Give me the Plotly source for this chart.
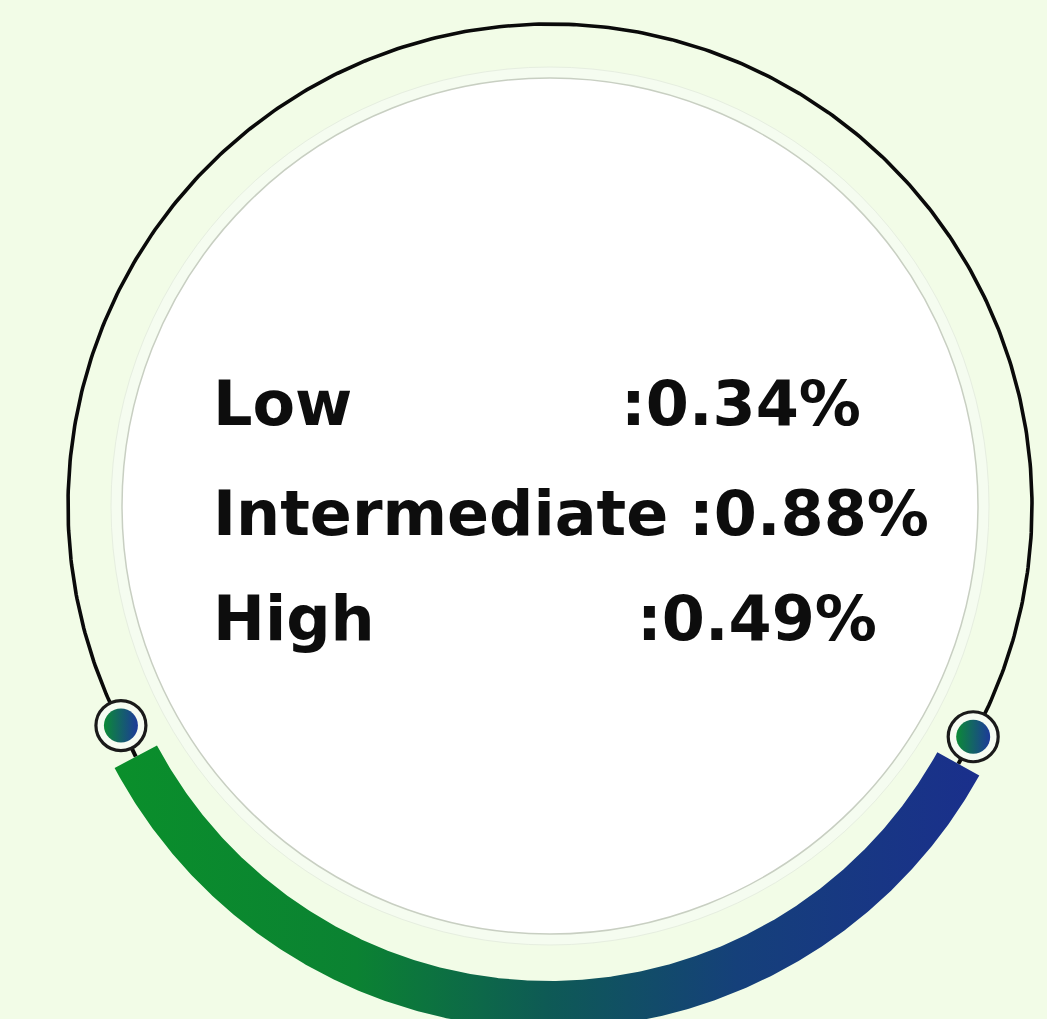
import numpy as np
import plotly.graph_objects as go

# ---- data ----
categories = ["Low", "Intermediate", "High"]
values = [0.34, 0.88, 0.49]

# ---- layout constants (pixel space) ----
W, H = 1047, 1019
BG = "#f2fce7"
CX, CY = 550, 506
R_WHITE = 428
R_HALO = 439
R_ARC = 482
ARC_T0, ARC_T1 = 152.9, 388.6          # degrees, y-down
BAND_CX, BAND_CY = 549, 537
BAND_RIN, BAND_ROUT = 444, 492
BAND_T0, BAND_T1 = 29.0, 152.0
LABEL_X = 211
ROW_Y = [403, 513, 618]
VALUE_X = [619, 687, 635]
FONT = "DejaVu Sans"
FSIZE = 62


def arc(cx, cy, r, t0, t1, n=400):
    t = np.radians(np.linspace(t0, t1, n))
    return cx + r * np.cos(t), cy + r * np.sin(t)


fig = go.Figure()

# black thin arc over the top
ax, ay = arc(CX, CY, R_ARC, ARC_T0, ARC_T1)
fig.add_trace(go.Scatter(x=ax, y=ay, mode="lines",
                         line=dict(color="#0a0a0a", width=3.6),
                         hoverinfo="skip"))

# marker positions on the black arc ends
mx = [ax[0], ax[-1]]
my = [ay[0], ay[-1]]

# band end mid points
bmid = (BAND_RIN + BAND_ROUT) / 2
e0x, e0y = arc(BAND_CX, BAND_CY, bmid, BAND_T1, BAND_T1, 1)
e1x, e1y = arc(BAND_CX, BAND_CY, bmid, BAND_T0, BAND_T0, 1)
for (px, py, qx, qy) in [(mx[0], my[0], e0x[0], e0y[0]), (mx[1], my[1], e1x[0], e1y[0])]:
    fig.add_trace(go.Scatter(x=[px, qx], y=[py, qy], mode="lines",
                             line=dict(color="#0a0a0a", width=4),
                             hoverinfo="skip"))

# gradient band at the bottom
ox, oy = arc(BAND_CX, BAND_CY, BAND_ROUT, BAND_T0, BAND_T1)
ix, iy = arc(BAND_CX, BAND_CY, BAND_RIN, BAND_T1, BAND_T0)
bx = np.concatenate([ox, ix, ox[:1]])
by = np.concatenate([oy, iy, oy[:1]])
fig.add_trace(go.Scatter(
    x=bx, y=by, mode="lines", fill="toself",
    line=dict(width=0),
    fillgradient=dict(type="horizontal",
                      colorscale=[[0, "#0a8f2b"], [0.28, "#0b8232"],
                                  [0.5, "#0e5a55"], [0.72, "#15407a"],
                                  [1, "#1a2f8c"]]),
    hoverinfo="skip"))

# markers: ring + gradient disc
fig.add_trace(go.Scatter(x=mx, y=my, mode="markers",
                         marker=dict(size=50, color="#f6fcf2",
                                     line=dict(color="#1a1a1a", width=3.2)),
                         hoverinfo="skip"))
fig.add_trace(go.Scatter(x=mx, y=my, mode="markers",
                         marker=dict(size=34, color="#0c8a36",
                                     gradient=dict(type="horizontal", color="#1c3a9a"),
                                     line=dict(width=0)),
                         hoverinfo="skip"))

# circles (halo + white disc)
shapes = [
    dict(type="circle", xref="x", yref="y", layer="below",
         x0=CX - R_HALO, x1=CX + R_HALO, y0=CY - R_HALO, y1=CY + R_HALO,
         fillcolor="#f5fcf0", line=dict(color="#e6eee0", width=1)),
    dict(type="circle", xref="x", yref="y", layer="below",
         x0=CX - R_WHITE, x1=CX + R_WHITE, y0=CY - R_WHITE, y1=CY + R_WHITE,
         fillcolor="#ffffff", line=dict(color="#c8cfc2", width=1.5)),
]

annotations = []
for i, (c, v) in enumerate(zip(categories, values)):
    annotations.append(dict(x=LABEL_X, y=ROW_Y[i], xref="x", yref="y",
                            text=c, showarrow=False, xanchor="left", yanchor="middle",
                            font=dict(family=FONT, size=FSIZE, color="#0d0d0d", weight=700)))
    annotations.append(dict(x=VALUE_X[i], y=ROW_Y[i], xref="x", yref="y",
                            text=f":{v:.2f}%", showarrow=False, xanchor="left", yanchor="middle",
                            font=dict(family=FONT, size=FSIZE, color="#0d0d0d", weight=700)))

fig.update_layout(
    width=W, height=H,
    margin=dict(l=0, r=0, t=0, b=0),
    paper_bgcolor=BG, plot_bgcolor=BG,
    showlegend=False,
    xaxis=dict(range=[0, W], visible=False, fixedrange=True),
    yaxis=dict(range=[H, 0], visible=False, fixedrange=True),
    shapes=shapes,
    annotations=annotations,
)

fig.write_html("out.html", config={"displayModeBar": False},
               post_script="document.body.style.margin='0';document.body.style.overflow='hidden';")
